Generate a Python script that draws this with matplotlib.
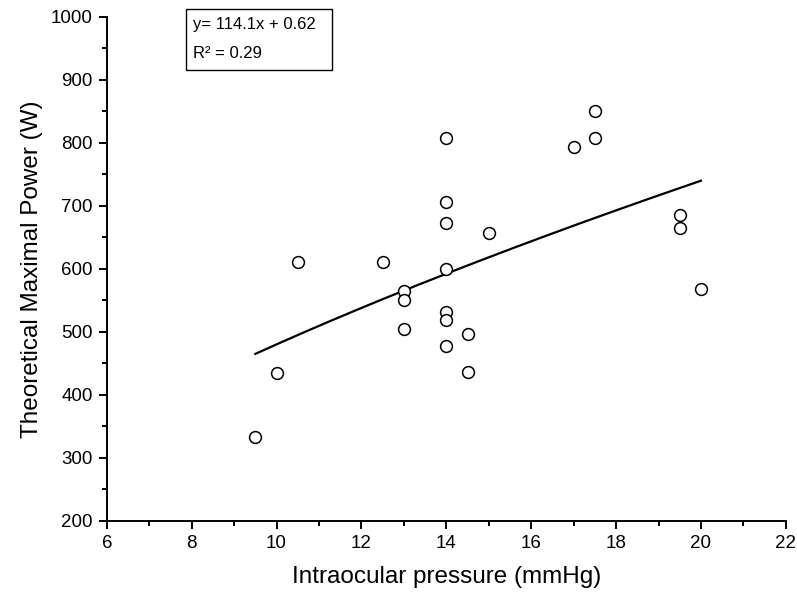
import numpy as np
import matplotlib.pyplot as plt
from matplotlib.patches import Rectangle
from matplotlib.ticker import MultipleLocator

plt.rcParams['font.family'] = ['Liberation Sans', 'DejaVu Sans']

# data
iop = [9.5, 10, 10.5, 12.5, 13, 13, 13,
       14, 14, 14, 14, 14, 14, 14,
       14.5, 14.5, 15, 17, 17.5, 17.5, 19.5, 19.5, 20]
power = [333, 435, 611, 611, 564, 550, 504,
         808, 706, 673, 600, 531, 518, 477,
         496, 436, 657, 793, 851, 808, 686, 665, 568]

# fit shown on the chart: y = a * x^b
fit_a = 114.1
fit_b = 0.624
fit_label = "y= 114.1x + 0.62"
r2_label = "R\u00b2 = 0.29"

x = np.array(iop, dtype=float)
y = np.array(power, dtype=float)

xf = np.linspace(x.min(), x.max(), 200)
yf = fit_a * xf ** fit_b

fig = plt.figure(figsize=(7.97, 6.0), dpi=100)
ax = fig.add_axes([0.134, 0.132, 0.852, 0.840])

ax.plot(xf, yf, color='black', lw=1.6, zorder=2)
ax.plot(x, y, 'o', ms=8.5, mfc='white', mec='black', mew=1.1, zorder=3)

ax.set_xlim(6, 22)
ax.set_ylim(200, 1000)
ax.xaxis.set_major_locator(MultipleLocator(2))
ax.xaxis.set_minor_locator(MultipleLocator(1))
ax.yaxis.set_major_locator(MultipleLocator(100))
ax.yaxis.set_minor_locator(MultipleLocator(50))

for side in ['top', 'right']:
    ax.spines[side].set_visible(False)
for side in ['left', 'bottom']:
    ax.spines[side].set_linewidth(1.4)

ax.tick_params(which='major', direction='out', length=6, width=1.4,
               labelsize=13.5, pad=4)
ax.tick_params(which='minor', direction='out', length=3.5, width=1.4)

ax.set_xlabel('Intraocular pressure (mmHg)', fontsize=17.5, labelpad=10)
ax.set_ylabel('Theoretical Maximal Power (W)', fontsize=17.5, labelpad=6)

# equation box
fig.patches.append(Rectangle((185.5 / 797, 1 - 69.5 / 600), 146 / 797, 60.5 / 600,
                             transform=fig.transFigure, fill=False,
                             edgecolor='black', lw=1.0))
fig.text(193 / 797, 1 - 25 / 600, fit_label, fontsize=12, va='center', ha='left')
fig.text(193 / 797, 1 - 54 / 600, r2_label, fontsize=12, va='center', ha='left')

fig.savefig('out.png', dpi=100)
